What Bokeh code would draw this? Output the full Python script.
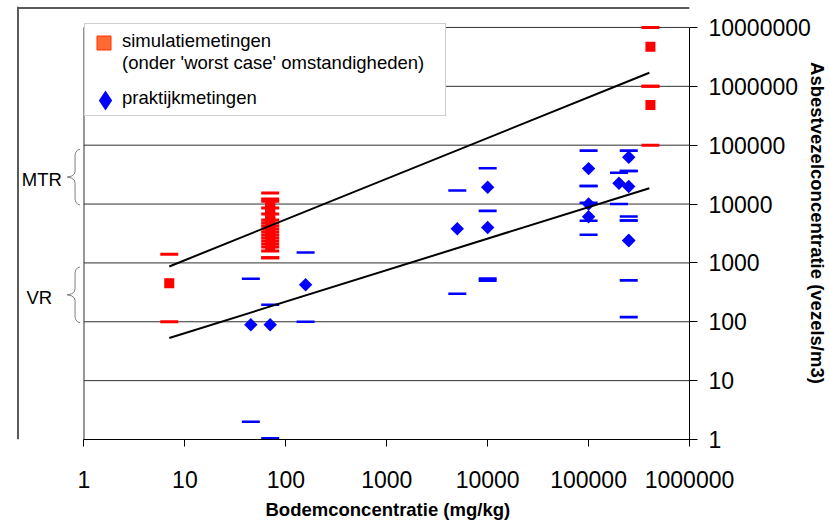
import math
from bokeh.plotting import figure
from bokeh.models import (Range1d, FixedTicker, NumeralTickFormatter, Legend, LegendItem,
                          Label, Span, Title)
from bokeh.embed import file_html
from bokeh.resources import INLINE

# ---------------- data ----------------
x_ticks = [1, 10, 100, 1000, 10000, 100000, 1000000]
y_ticks = [1, 10, 100, 1000, 10000, 100000, 1000000, 10000000]

# simulatiemetingen (worst case)
sim_x = [7, 70, 70, 70, 70, 70, 70, 70, 70, 70, 410000, 410000]
sim_y = [450, 10000, 8500, 7000, 6000, 5000, 3500, 3000, 2500, 2000, 4700000, 480000]
sim_lo = [100, 3350, 2980, 2650, 2360, 2100, 1870, 1600, 1220, 1220, 1000000, 100000]
sim_hi = [1400, 15400, 12200, 11200, 8550, 6770, 5350, 4770, 4240, 3770, 10000000, 1000000]

# praktijkmetingen
prak_x = [45, 70, 157, 5000, 10000, 10000, 100000, 100000, 100000, 200000,
          250000, 250000, 250000, 250000]
prak_y = [89, 89, 425, 3800, 19300, 4000, 40000, 10000, 6100, 22600,
          62400, 19800, 2400, 2400]
prak_lo = [2, 1.05, 100, 300, 500, 540, 20300, 5200, 3000, 10000,
           36500, 6130, 120, 504]
prak_hi = [538, 195, 1500, 17000, 40600, 7650, 80700, 20300, 10500, 34000,
           80700, 36500, 5250, 5250]

# trend lines
trend_x = [7, 400000]
trend_upper = [870, 1700000]
trend_lower = [53, 18600]

# reference bands
band_names = ["MTR", "VR"]
band_lo = [10000, 100]
band_hi = [100000, 1000]

legend_labels = ["simulatiemetingen", "(onder 'worst case' omstandigheden)", "praktijkmetingen"]
x_title = "Bodemconcentratie (mg/kg)"
y_title = "Asbestvezelconcentratie (vezels/m3)"

FONT = "Liberation Sans"

# ---------------- geometry ----------------
PX_X = 610 / 6.0   # pixels per decade (x)
PX_Y = 413 / 7.0   # pixels per decade (y)
LEFT_EXT = 68      # px of frame left of x = 1 (room for MTR / VR braces)
TOP_EXT = 21       # px of frame above y = 1e7 (room for the chart border)

def dx(px):
    return 10 ** (px / PX_X)

def uy(px):
    return 10 ** (px / PX_Y)

# ---------------- figure ----------------
p = figure(width=830, height=529, x_axis_type="log", y_axis_type="log",
           x_range=Range1d(dx(-LEFT_EXT), x_ticks[-1]),
           y_range=Range1d(y_ticks[0], y_ticks[-1] * uy(TOP_EXT)),
           y_axis_location="right", output_backend="svg", toolbar_location=None,
           min_border_left=16, min_border_right=136, min_border_top=6, min_border_bottom=89)
p.title.visible = False
p.background_fill_color = "white"
p.border_fill_color = "white"
p.outline_line_color = None
p.xgrid.visible = False
p.ygrid.visible = False

xt = FixedTicker(ticks=x_ticks)
yt = FixedTicker(ticks=y_ticks)
p.xaxis.ticker = xt
p.yaxis.ticker = yt
p.xaxis.bounds = (x_ticks[0], x_ticks[-1])
p.yaxis.bounds = (y_ticks[0], y_ticks[-1])

for ax in (p.xaxis, p.yaxis):
    ax.formatter = NumeralTickFormatter(format="0")
    ax.minor_tick_out = 0
    ax.minor_tick_in = 0
    ax.major_tick_in = 0
    ax.axis_line_color = "black"
    ax.major_tick_line_color = "black"
    ax.major_label_text_font = FONT
    ax.major_label_text_font_size = "23px"
    ax.major_label_text_color = "black"
    ax.axis_label_text_font = FONT
    ax.axis_label_text_font_size = "18.5px"
    ax.axis_label_text_font_style = "bold"
    ax.axis_label_text_color = "black"

p.xaxis.major_tick_out = 7
p.xaxis.major_label_standoff = 24

p.yaxis.major_tick_out = 8
p.yaxis.major_label_standoff = 11
p.yaxis.axis_label = y_title
p.yaxis.axis_label_standoff = -7

# x-axis title, centred under the plot area (not under the extended frame)
p.add_layout(Title(text=x_title, align="left", offset=249, vertical_align="top", standoff=16,
                   text_font=FONT, text_font_size="18.5px", text_font_style="bold",
                   text_color="black"), "below")

# horizontal grid lines only across the plot area, and its left edge
n = len(y_ticks)
p.segment(x0=[x_ticks[0]] * n, x1=[x_ticks[-1]] * n, y0=y_ticks, y1=y_ticks,
          line_color="#303030", line_width=1)
p.segment(x0=[x_ticks[0]], x1=[x_ticks[0]], y0=[y_ticks[0]], y1=[y_ticks[-1]],
          line_color="#303030", line_width=1)

# chart-area border (left and top)
p.add_layout(Span(location=dx(-LEFT_EXT + 1.5), dimension="height", line_color="#5a5a5a",
                  line_width=2))
p.segment(x0=[dx(-LEFT_EXT + 1.5)], x1=[x_ticks[-1]],
          y0=[y_ticks[-1] * uy(TOP_EXT - 1.5)], y1=[y_ticks[-1] * uy(TOP_EXT - 1.5)],
          line_color="#5a5a5a", line_width=2)

# ---------------- marks ----------------
p.scatter(sim_x, sim_lo, marker="dash", size=18, line_color="#FF0000", line_width=3)
p.scatter(sim_x, sim_hi, marker="dash", size=18, line_color="#FF0000", line_width=3)
p.scatter(prak_x, prak_lo, marker="dash", size=18, line_color="#0000FF", line_width=2.6)
p.scatter(prak_x, prak_hi, marker="dash", size=18, line_color="#0000FF", line_width=2.6)
# legend-icon renderers (hidden beneath the real markers)
leg_sq = p.scatter(sim_x[:1], sim_y[:1], marker="square", size=8,
                   fill_color="#FF6A33", line_color="#FF3300", line_width=1)
leg_dia = p.scatter(prak_x[:1], prak_y[:1], marker="diamond", size=8,
                    fill_color="#0000FF", line_color=None)
p.scatter(sim_x, sim_y, marker="square", size=10, fill_color="#FF0000", line_color=None)
p.scatter(prak_x, prak_y, marker="square", angle=math.pi / 4, size=9.5,
          fill_color="#0000FF", line_color=None)
p.line(trend_x, trend_upper, line_color="black", line_width=2)
p.line(trend_x, trend_lower, line_color="black", line_width=2)

blank = p.scatter([], [], marker="square", fill_alpha=0, line_alpha=0)

# text part of the legend (with the box)
legend_text = Legend(items=[LegendItem(label=legend_labels[0] + "\n" + legend_labels[1],
                                       renderers=[blank]),
                            LegendItem(label=legend_labels[2], renderers=[blank])],
                     location=(LEFT_EXT, 323), margin=0, padding=6, spacing=13,
                     glyph_width=30, glyph_height=20, label_height=20, label_width=317,
                     label_standoff=1, label_text_font=FONT, label_text_font_size="18.5px",
                     label_text_color="black", border_line_color="#a0a0a0",
                     border_line_width=1.5, background_fill_color="white",
                     background_fill_alpha=1)
p.add_layout(legend_text)

# legend icons
legend_sq = Legend(items=[LegendItem(label=" ", renderers=[leg_sq])],
                   location=(LEFT_EXT + 2, 379), margin=0, padding=0, spacing=0,
                   glyph_width=35, glyph_height=35, label_height=10, label_standoff=0,
                   label_text_font_size="8px", border_line_color=None,
                   background_fill_alpha=0)
legend_dia = Legend(items=[LegendItem(label=" ", renderers=[leg_dia])],
                    location=(LEFT_EXT - 4, 314), margin=0, padding=0, spacing=0,
                    glyph_width=50, glyph_height=50, label_height=10, label_standoff=0,
                    label_text_font_size="8px", border_line_color=None,
                    background_fill_alpha=0)
p.add_layout(legend_sq)
p.add_layout(legend_dia)

# ---------------- reference bands (MTR / VR) ----------------
for name, lo, hi in zip(band_names, band_lo, band_hi):
    T = math.log10(hi) * PX_Y - 4
    B = math.log10(lo) * PX_Y - 1
    M = (T + B) / 2
    pts = [(-4, T), (-6.5, T - 1), (-8.2, T - 3), (-9, T - 6), (-9, M + 6), (-9.8, M + 3),
           (-12.5, M + 1), (-17, M), (-12.5, M - 1), (-9.8, M - 3), (-9, M - 6), (-9, B + 6),
           (-8.2, B + 3), (-6.5, B + 1), (-4, B)]
    p.line([dx(a) for a, _ in pts], [uy(b) for _, b in pts], line_color="#808080", line_width=1)
    p.add_layout(Label(x=dx(-42.5 if name == "MTR" else -45), y=uy(M - 2.5), text=name,
                       text_align="center", text_baseline="middle", text_font=FONT,
                       text_font_size="18.5px", text_color="black"))

open("out.html", "w").write(file_html(p, INLINE))
